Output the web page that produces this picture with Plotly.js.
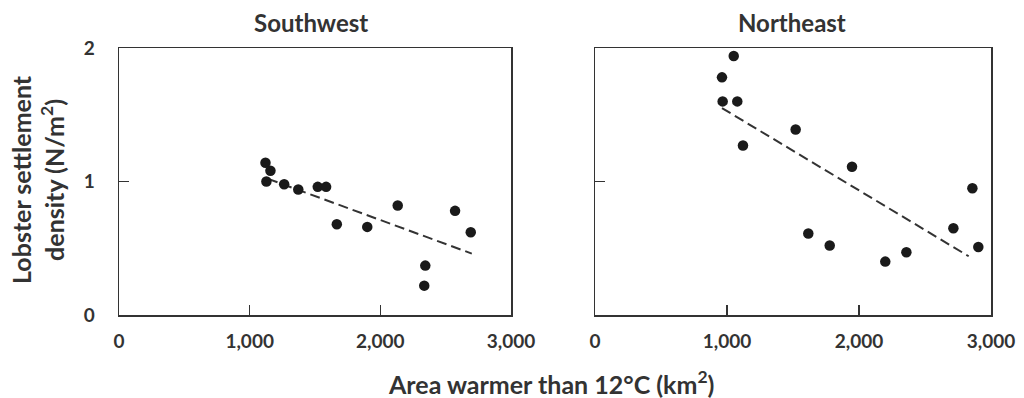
<!DOCTYPE html>
<html>
<head>
<meta charset="utf-8">
<script src="https://cdn.plot.ly/plotly-3.0.1.min.js"></script>
<style>html,body{margin:0;padding:0;background:#fff;}#chart{width:1024px;height:398px;}</style>
</head>
<body>
<div id="chart"></div>
<script>
// Southwest panel data
const swX = [1121, 1159, 1128, 1264, 1372, 1521, 1585, 1667, 1900, 2133, 2344, 2336, 2572, 2692];
const swY = [1.14, 1.08, 1.00, 0.98, 0.94, 0.96, 0.96, 0.68, 0.66, 0.82, 0.37, 0.22, 0.78, 0.62];
const swTrendX = [1141, 2700];
const swTrendY = [1.02, 0.46];

// Northeast panel data
const neX = [1051, 962, 967, 1078, 1121, 1520, 1947, 1616, 1778, 2199, 2359, 2715, 2859, 2904];
const neY = [1.94, 1.78, 1.60, 1.60, 1.27, 1.39, 1.11, 0.61, 0.52, 0.40, 0.47, 0.65, 0.95, 0.51];
const neTrendX = [962, 2831];
const neTrendY = [1.55, 0.44];

// Axis ticks
const xTickVals = [0, 1000, 2000, 3000];
const xTickText = ['0', '1,000', '2,000', '3,000'];
const yTickVals = [0, 1, 2];
const yTickText = ['0', '1', '2'];

const W = 1024, H = 398;
const FONT = 'Lato, "Open Sans", sans-serif';
const TXT = '#333';
const px = v => v / W;
const py = v => (H - v) / H;

const markerStyle = {color: '#1a1a1a', size: 10.5};
const lineStyle = {color: '#333', width: 2, dash: '10px,5px'};

const traces = [
  {x: swTrendX, y: swTrendY, type: 'scatter', mode: 'lines', line: lineStyle, xaxis: 'x', yaxis: 'y', hoverinfo: 'skip'},
  {x: swX, y: swY, type: 'scatter', mode: 'markers', marker: markerStyle, xaxis: 'x', yaxis: 'y'},
  {x: neTrendX, y: neTrendY, type: 'scatter', mode: 'lines', line: lineStyle, xaxis: 'x2', yaxis: 'y2', hoverinfo: 'skip'},
  {x: neX, y: neY, type: 'scatter', mode: 'markers', marker: markerStyle, xaxis: 'x2', yaxis: 'y2'}
];

const tickFont = {family: FONT, size: 19, color: TXT, weight: 700};

function xAxis(d0, d1, anchor) {
  return {
    domain: [px(d0), px(d1)], anchor: anchor, range: [0, 3000],
    tickvals: xTickVals, ticktext: xTickText, ticks: 'inside', ticklen: 10, tickwidth: 1.5, tickcolor: '#333',
    showline: true, mirror: true, linecolor: '#333', linewidth: 1.5,
    showgrid: false, zeroline: false, tickfont: tickFont, ticklabelstandoff: 9, fixedrange: true
  };
}
function yAxis(anchor, showLabels) {
  return {
    domain: [py(315), py(48)], anchor: anchor, range: [0, 2],
    tickvals: yTickVals, ticktext: yTickText, ticks: 'inside', ticklen: 10, tickwidth: 1.5, tickcolor: '#333',
    showline: true, mirror: true, linecolor: '#333', linewidth: 1.5,
    showgrid: false, zeroline: false, tickfont: tickFont, showticklabels: showLabels, ticklabelstandoff: 19, fixedrange: true
  };
}

const layout = {
  width: W, height: H,
  margin: {l: 0, r: 0, t: 0, b: 0},
  paper_bgcolor: '#fff', plot_bgcolor: '#fff',
  showlegend: false,
  xaxis: xAxis(119, 511, 'y'),
  yaxis: yAxis('x', true),
  xaxis2: xAxis(595, 991, 'y2'),
  yaxis2: yAxis('x2', false),
  annotations: [
    {text: 'Southwest', x: px(311), y: py(22), xref: 'paper', yref: 'paper', showarrow: false, xanchor: 'center', yanchor: 'middle',
     font: {family: FONT, size: 24, color: TXT, weight: 700}},
    {text: 'Northeast', x: px(792), y: py(22), xref: 'paper', yref: 'paper', showarrow: false, xanchor: 'center', yanchor: 'middle',
     font: {family: FONT, size: 24, color: TXT, weight: 700}},
    {text: 'Area warmer than 12°C (km<sup>2</sup>)', x: px(551), y: py(382), xref: 'paper', yref: 'paper', showarrow: false, xanchor: 'center', yanchor: 'middle',
     font: {family: FONT, size: 25, color: TXT, weight: 700}},
    {text: 'Lobster settlement<br>density (N/m<sup>2</sup>)', x: px(38), y: py(180), xref: 'paper', yref: 'paper', showarrow: false, xanchor: 'center', yanchor: 'middle',
     textangle: -90, font: {family: FONT, size: 25, color: TXT, weight: 700}}
  ]
};

Plotly.newPlot('chart', traces, layout, {displayModeBar: false, staticPlot: true});
</script>
</body>
</html>
